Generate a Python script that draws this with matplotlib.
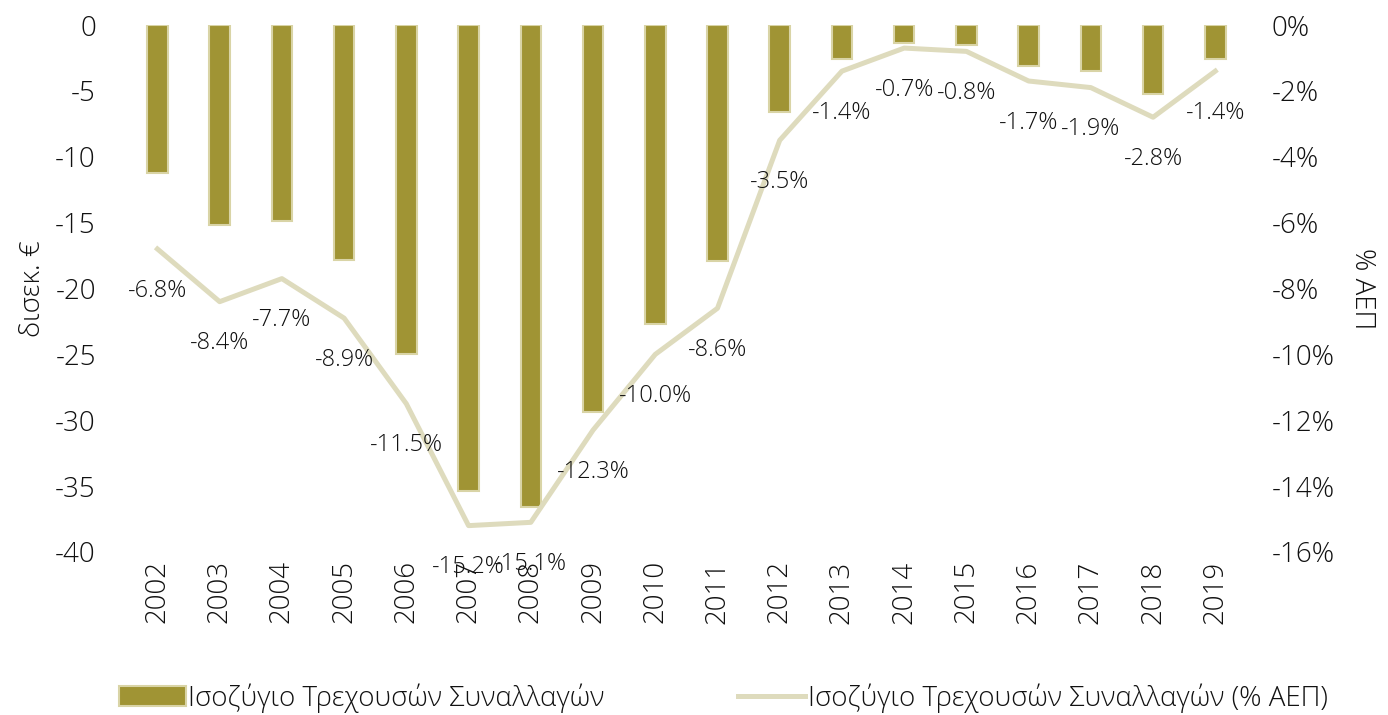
import matplotlib
matplotlib.use("Agg")
import matplotlib.pyplot as plt
import numpy as np

plt.rcParams['font.family'] = ['Open Sans', 'DejaVu Sans']
plt.rcParams['font.weight'] = 'light'
plt.rcParams['axes.labelweight'] = 'light'
plt.rcParams['axes.unicode_minus'] = False

years = [str(y) for y in range(2002, 2020)]
balance = [-11.2, -15.2, -14.9, -17.8, -25.0, -35.4, -36.6, -29.4, -22.7,
           -17.9, -6.6, -2.6, -1.4, -1.5, -3.1, -3.5, -5.2, -2.6]
pct_gdp = [-6.8, -8.4, -7.7, -8.9, -11.5, -15.2, -15.1, -12.3, -10.0,
           -8.6, -3.5, -1.4, -0.7, -0.8, -1.7, -1.9, -2.8, -1.4]

bar_color = '#A09434'
line_color = '#DEDBBD'
text_color = '#111111'

fig = plt.figure(figsize=(13.88, 7.15), dpi=100)
ax1 = fig.add_axes([0.091, 0.228, 0.807, 0.737])
x = np.arange(len(years))

ax1.bar(x, balance, width=0.33, color=bar_color, edgecolor='#D9D4A6', linewidth=1.5,
        label='Ισοζύγιο Τρεχουσών Συναλλαγών', zorder=2)
ax1.set_ylim(-40, 0)
ax1.set_yticks(range(-40, 1, 5))
ax1.set_xlim(-0.5, len(years) - 0.5)
ax1.set_xticks(x)
ax1.set_xticklabels(years, rotation=90)
ax1.set_ylabel('δισεκ. €', fontsize=20, color=text_color, labelpad=6)
ax1.tick_params(axis='both', length=0, labelsize=20, colors=text_color)
ax1.tick_params(axis='y', pad=22)
ax1.tick_params(axis='x', pad=6)

ax2 = ax1.twinx()
ax2.plot(x, pct_gdp, color=line_color, linewidth=3.6,
         label='Ισοζύγιο Τρεχουσών Συναλλαγών (% ΑΕΠ)', zorder=3)
ax2.set_ylim(-16, 0)
ax2.set_yticks(range(-16, 1, 2))
ax2.set_yticklabels([f'{v}%' for v in range(-16, 1, 2)])
ax2.tick_params(axis='y', length=0, labelsize=20, colors=text_color, pad=18)
ax2.set_ylabel('% ΑΕΠ', fontsize=20, color=text_color, rotation=270, labelpad=30)

for xi, v in zip(x, pct_gdp):
    ax2.annotate(f'{v:.1f}%', (xi, v), xytext=(0, -30), textcoords='offset points',
                 ha='center', va='center', fontsize=17, color=text_color, zorder=4)

for ax in (ax1, ax2):
    for s in ax.spines.values():
        s.set_visible(False)
ax2.set_zorder(ax1.get_zorder() + 1)
ax2.patch.set_visible(False)

h1, l1 = ax1.get_legend_handles_labels()
h2, l2 = ax2.get_legend_handles_labels()
fig.legend(h1 + h2, l1 + l2, loc='lower center', bbox_to_anchor=(0.521, -0.032), ncol=2,
           frameon=False, fontsize=20, columnspacing=4.8, handlelength=2.4,
           handletextpad=0.1, labelcolor=text_color)

fig.savefig('out.png', dpi=100)
